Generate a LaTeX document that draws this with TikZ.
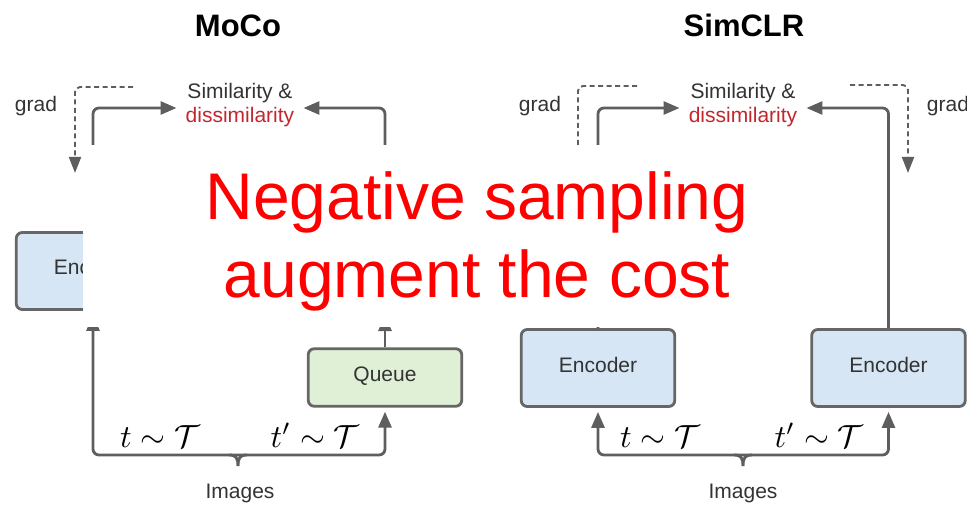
\documentclass[tikz,border=0pt]{standalone}
\usepackage{fontspec}
\setmainfont{Liberation Sans}
\usetikzlibrary{arrows.meta,calc}

\definecolor{linegray}{HTML}{5E5E5E}
\definecolor{boxgray}{HTML}{666666}
\definecolor{txtgray}{HTML}{333333}
\definecolor{dissred}{HTML}{C1272D}
\definecolor{encblue}{HTML}{D6E6F4}
\definecolor{queuegreen}{HTML}{DFF0D6}

\begin{document}
\begin{tikzpicture}[x=1pt,y=-1pt,
  conn/.style={draw=linegray, line width=2.8pt, rounded corners=6pt},
  arr/.style={conn, -{Triangle[length=16pt,width=13pt]}},
  tobox/.style={arr, shorten >=4pt},
  gradarr/.style={draw=linegray, line width=1.9pt, dash pattern=on 5pt off 3.5pt,
    rounded corners=5pt, -{Triangle[length=16pt,width=12pt]}},
  box/.style={draw=boxgray, line width=2.8pt, rounded corners=6pt, minimum width=153.5pt,
    text=txtgray, font=\fontsize{21}{24}\selectfont, inner sep=0pt,
    text height=15pt, text depth=7pt},
  enc/.style={box, fill=encblue, minimum height=77pt},
  queue/.style={box, fill=queuegreen, minimum height=57.5pt},
  lbl/.style={text=txtgray, font=\fontsize{21}{24}\selectfont, inner sep=0pt},
  sim/.style={lbl, align=center, inner xsep=9pt, inner ysep=0pt},
  mathlbl/.style={inner sep=0pt, font=\normalsize, scale=3.2, text=black, anchor=base},
  ttl/.style={inner sep=0pt, font=\fontsize{31}{36}\selectfont\bfseries, text=black},
  banner/.style={inner sep=0pt, anchor=base, text=red, font=\fontsize{66}{77}\selectfont}
]
\useasboundingbox (0,0) rectangle (967,505);

% ---------------- MoCo ----------------
\node[ttl] (mocoT) at (238,25.5) {MoCo};
\node[sim] (msim) at (240,105.5) {Similarity \&\\\textcolor{dissred}{dissimilarity}};
\node[lbl, anchor=base] (mgrad) at (36,112) {grad};
\node[enc] (menc) at (93,271) {Encoder};
\node[queue] (mqueue) at (385,377.5) {Queue};
\coordinate (mkeyTop) at (385,231);
\coordinate (mkeyBot) at (385,311);
\coordinate (mgradS) at (133,87);
\coordinate (mgradE) at (75,173);
\coordinate (mbr) at (238,455);
\coordinate (mtip) at (238,466);
\node[lbl] (mimg) at (240,493) {Images};
\node[mathlbl] (mt1) at (160,447) {$t\sim\mathcal{T}$};
\node[mathlbl] (mt2) at (315,447) {$t'\sim\mathcal{T}$};

\draw[arr] (menc.north) |- ($(msim.west)+(0,2.5)$);
\draw[arr] (mkeyTop) |- ($(msim.east)+(0,2.5)$);
\draw[gradarr] (mgradS) -| (mgradE);
\draw[arr, shorten >=4pt] (mqueue.north) -- (mkeyBot);
\draw[tobox] (mbr) -| (menc.south);
\draw[tobox] (mbr) -| (mqueue.south);
\draw[conn, rounded corners=0pt] ($(mbr)+(-9,0)$) .. controls ($(mbr)+(-2,0)$) and ($(mbr)+(0,3)$) .. (mtip);
\draw[conn, rounded corners=0pt] ($(mbr)+(9,0)$) .. controls ($(mbr)+(2,0)$) and ($(mbr)+(0,3)$) .. (mtip);

% ---------------- SimCLR ----------------
\node[ttl] (simT) at (744,25.5) {SimCLR};
\node[sim] (ssim) at (743,105.5) {Similarity \&\\\textcolor{dissred}{dissimilarity}};
\node[lbl, anchor=base] (sgradL) at (540,112) {grad};
\node[lbl, anchor=base] (sgradR) at (948,112) {grad};
\node[enc] (senc1) at (598,368) {Encoder};
\node[enc] (senc2) at (888.5,368) {Encoder};
\coordinate (sgLs) at (637,86);
\coordinate (sgLe) at (578,173);
\coordinate (sgRs) at (850,85);
\coordinate (sgRe) at (908,173);
\coordinate (sbr) at (743,455);
\coordinate (stip) at (743,466);
\node[lbl] (simg) at (743,493) {Images};
\node[mathlbl] (st1) at (660,447) {$t\sim\mathcal{T}$};
\node[mathlbl] (st2) at (819,447) {$t'\sim\mathcal{T}$};

\draw[arr] (senc1.north) |- ($(ssim.west)+(0,2.5)$);
\draw[arr] (senc2.north) |- ($(ssim.east)+(0,2.5)$);
\draw[gradarr] (sgLs) -| (sgLe);
\draw[gradarr] (sgRs) -| (sgRe);
\draw[tobox] (sbr) -| (senc1.south);
\draw[tobox] (sbr) -| (senc2.south);
\draw[conn, rounded corners=0pt] ($(sbr)+(-9,0)$) .. controls ($(sbr)+(-2,0)$) and ($(sbr)+(0,3)$) .. (stip);
\draw[conn, rounded corners=0pt] ($(sbr)+(9,0)$) .. controls ($(sbr)+(2,0)$) and ($(sbr)+(0,3)$) .. (stip);

% ---------------- white banner with the remark ----------------
\fill[white] (83,145) rectangle (860,327);
\node[banner] (neg1) at (477,220) {Negative sampling};
\node[banner] (neg2) at (477,298) {augment the cost};
\end{tikzpicture}
\end{document}
